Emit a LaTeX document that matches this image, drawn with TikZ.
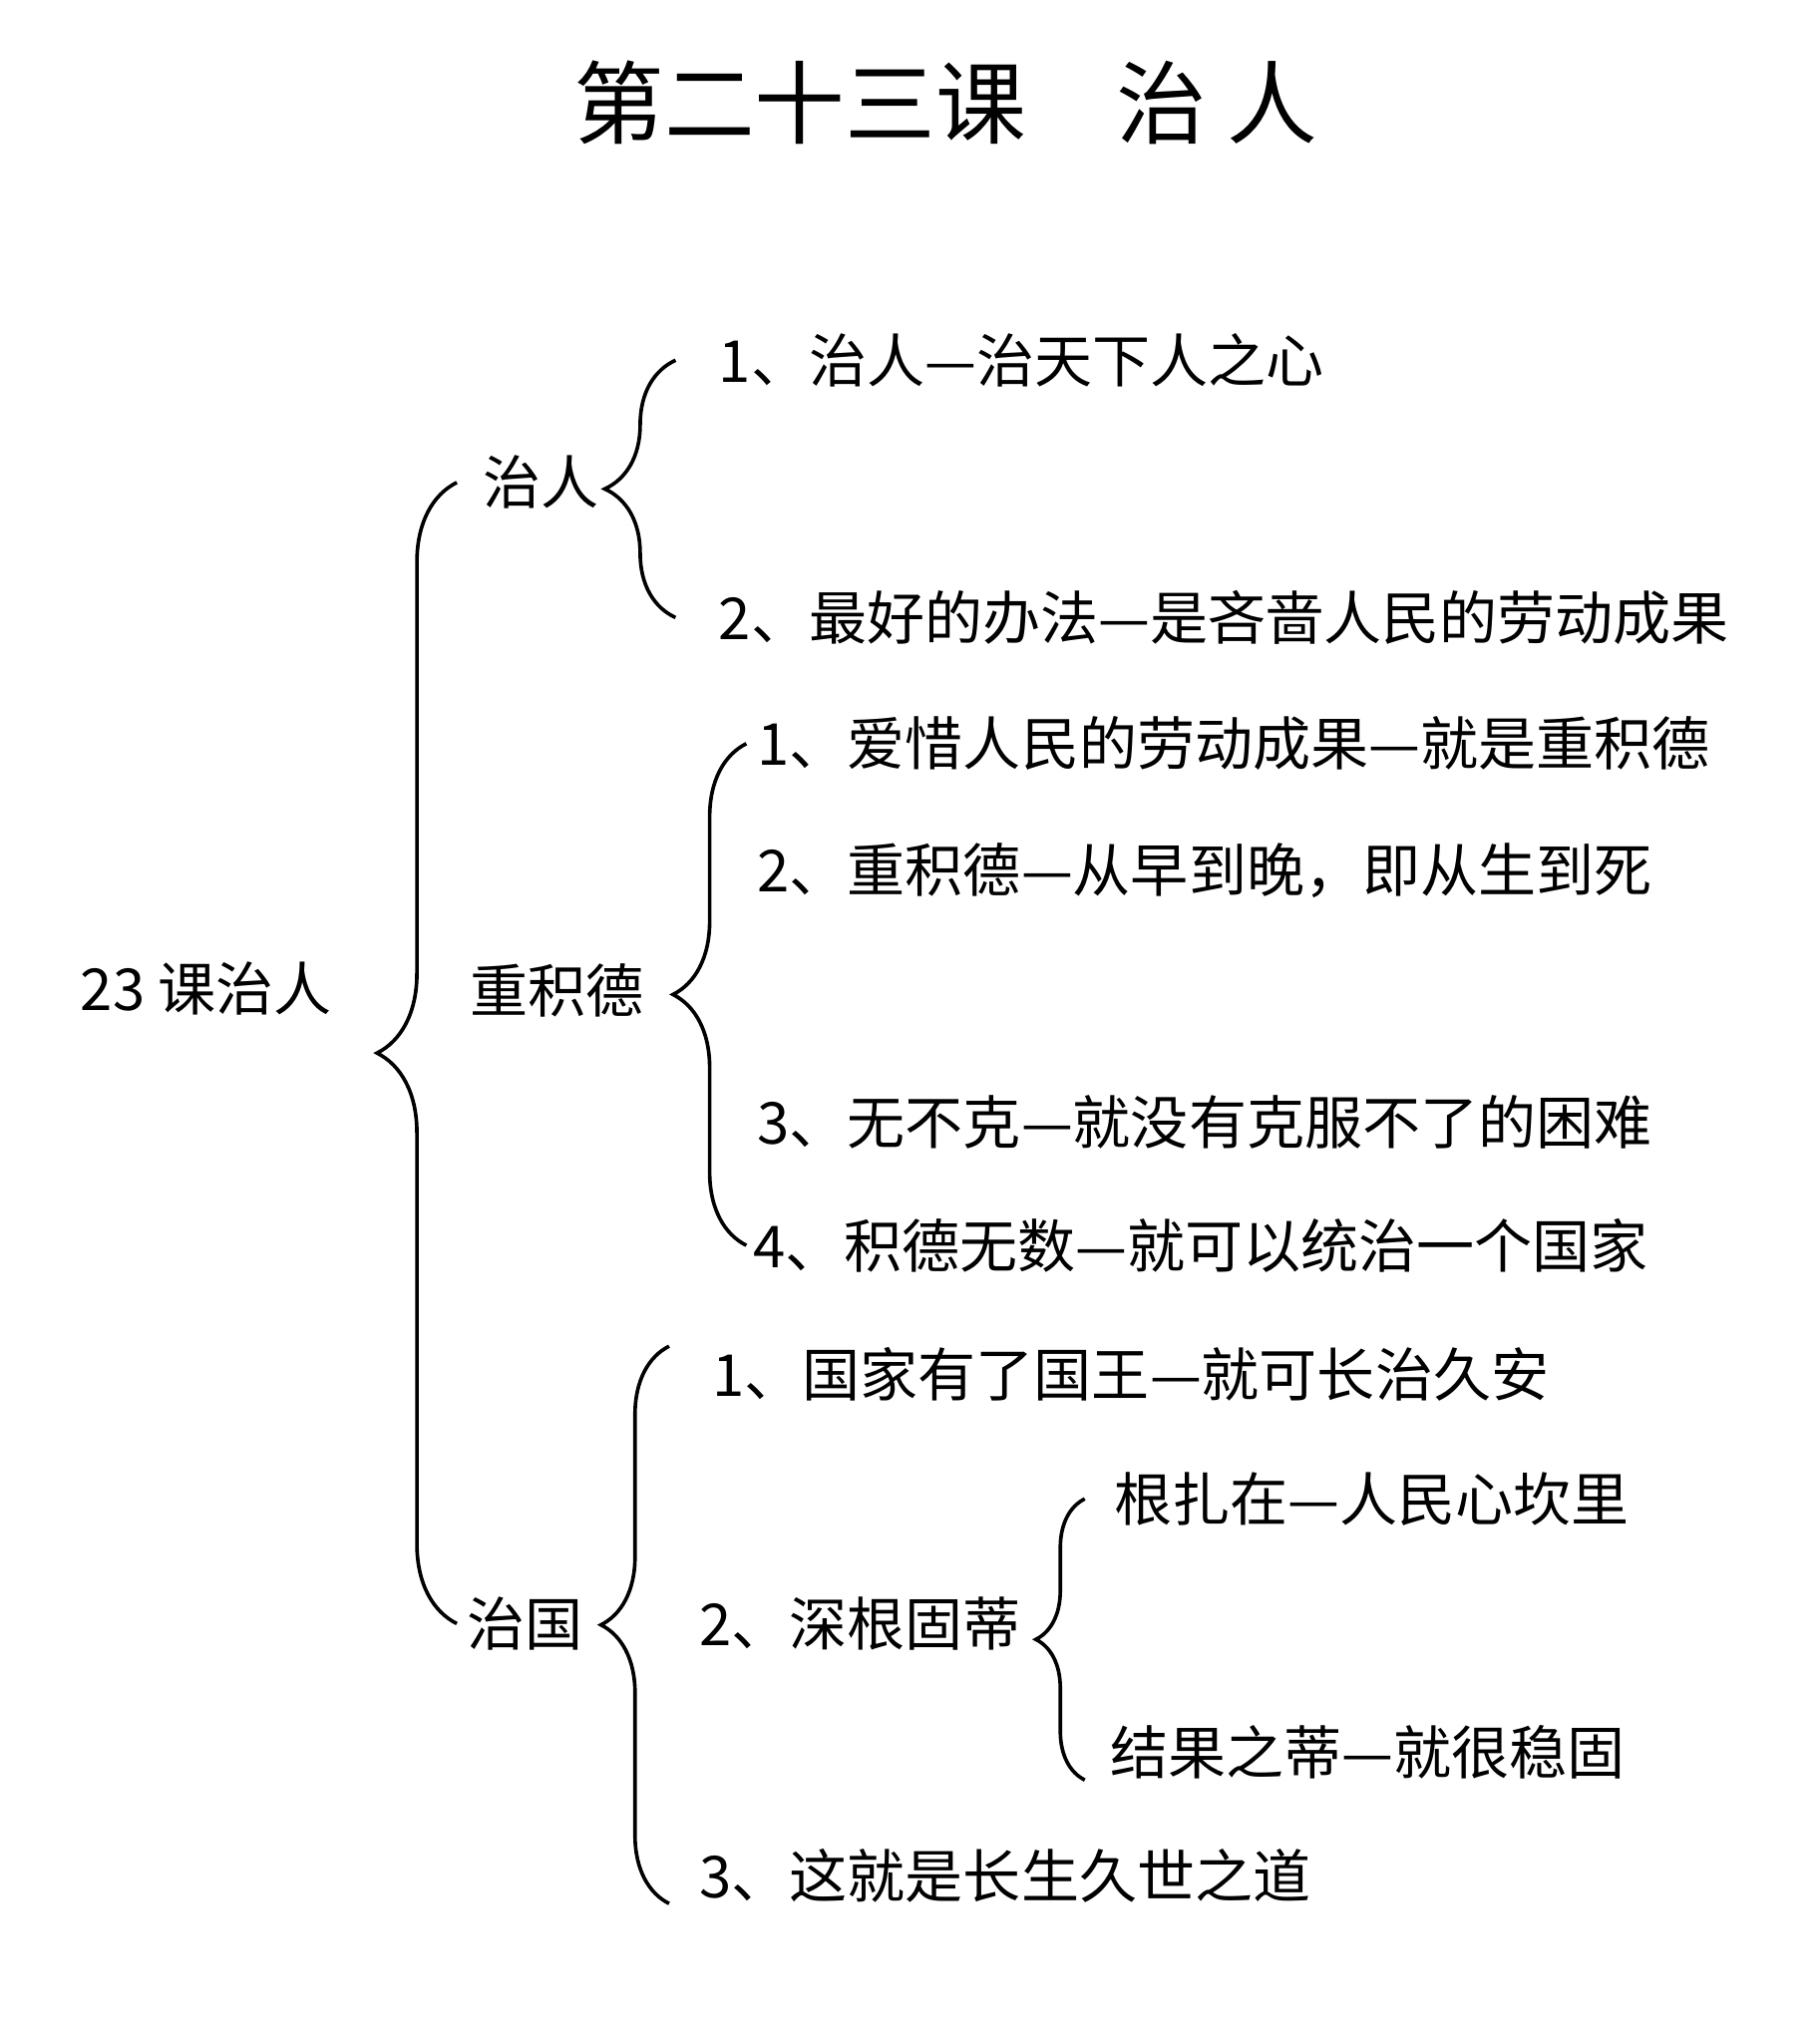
\documentclass[tikz,border=0pt]{standalone}
\usepackage{fontspec}
\newfontfamily\cjk{Noto Sans CJK SC}
\usetikzlibrary{decorations.pathreplacing}

\begin{document}
\begin{tikzpicture}[
    txt/.style={anchor=west, inner sep=0pt, font=\cjk\fontsize{12.8pt}{15pt}\selectfont},
    head/.style={inner sep=0pt, font=\cjk\fontsize{20pt}{24pt}\selectfont},
    brc/.style={decorate, decoration={brace, amplitude=#1}, line width=0.8pt}
]
    \useasboundingbox (0,0) rectangle (14.14,-15.81);

    % Title
    \node[head] (title) at (7.35,-0.80) {第二十三课　治 人};

    % Root and main branches
    \node[txt] (root) at (0.62,-7.68) {23 课治人};
    \node[txt] (zr)   at (3.75,-3.75) {治人};
    \node[txt] (jd)   at (3.65,-7.70) {重积德};
    \node[txt] (zg)   at (3.62,-12.62) {治国};

    % Items
    \node[txt] (zr1) at (5.58,-2.80) {1、治人—治天下人之心};
    \node[txt] (zr2) at (5.58,-4.80) {2、最好的办法—是吝啬人民的劳动成果};
    \node[txt] (jd1) at (5.88,-5.78) {1、爱惜人民的劳动成果—就是重积德};
    \node[txt] (jd2) at (5.88,-6.77) {2、重积德—从早到晚，即从生到死};
    \node[txt] (jd3) at (5.88,-8.72) {3、无不克—就没有克服不了的困难};
    \node[txt] (jd4) at (5.85,-9.68) {4、积德无数—就可以统治一个国家};
    \node[txt] (zg1) at (5.53,-10.68) {1、国家有了国王—就可长治久安};
    \node[txt] (zg2) at (5.43,-12.62) {2、深根固蒂};
    \node[txt] (zg3) at (5.43,-14.58) {3、这就是长生久世之道};
    \node[txt] (sg1) at (8.65,-11.65) {根扎在—人民心坎里};
    \node[txt] (sg2) at (8.62,-13.62) {结果之蒂—就很稳固};

    % Brace columns
    \coordinate (b0) at (3.55,0);
    \coordinate (b1) at (5.25,0);
    \coordinate (b2) at (5.80,0);
    \coordinate (b3) at (5.20,0);
    \coordinate (b4) at (8.43,0);

    % Braces
    \draw[brc=6.2mm] (b0 |- zg.west)  -- (b0 |- zr.west);
    \draw[brc=5.5mm] (b1 |- zr2.west) -- (b1 |- zr1.west);
    \draw[brc=5.7mm] (b2 |- jd4.west) -- (b2 |- jd1.west);
    \draw[brc=5.3mm] (b3 |- zg3.south) -- (b3 |- zg1.north);
    \draw[brc=3.8mm] (b4 |- sg2.south) -- (b4 |- sg1.west);
\end{tikzpicture}
\end{document}
